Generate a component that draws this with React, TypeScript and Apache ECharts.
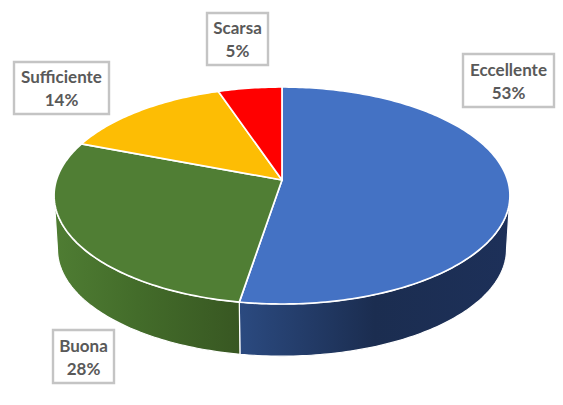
import React, { useEffect, useRef } from "react";
import * as echarts from "echarts";

const categories = ["Eccellente", "Buona", "Sufficiente", "Scarsa"];
const shares = [52.6, 28.2, 14.0, 5.2];
const topColors = ["#4472C4", "#507E34", "#FDBD04", "#FF0000"];
const wallStops: Record<number, [number, string][]> = {
  0: [[0, "#2B4A80"], [0.5, "#1B2D50"], [1, "#1D3059"]],
  1: [[0, "#4F7D33"], [0.45, "#436C2A"], [1, "#385722"]],
};
const labelBoxes = [
  [463, 54, 91, 53],
  [53, 330, 61, 53],
  [14, 62, 95, 52],
  [207, 13, 61, 52],
];

const CX = 282, TOP_Y = 180, RX = 225.6, RY = 106.3, K = 1 / 7;
const WALL_Y = 234, WALL_SCALE = 0.985;
const WALL_A = 98.2, WALL_B = 261.8;

function project(deg: number, cy: number, scale: number): number[] {
  const t = (deg * Math.PI) / 180;
  const den = 1 + K * Math.cos(t);
  return [CX + (scale * RX * Math.sin(t)) / den, cy - (scale * RY * Math.cos(t)) / den];
}

function arcPoints(a: number, b: number, cy: number, scale: number): number[][] {
  const n = Math.max(2, Math.ceil(Math.abs(b - a)));
  const pts: number[][] = [];
  for (let i = 0; i <= n; i++) pts.push(project(a + ((b - a) * i) / n, cy, scale));
  return pts;
}

function renderSlice(params: any, api: any) {
  const i = params.dataIndex;
  const value = api.value(0);
  const before = shares.slice(0, i).reduce((s, v) => s + v, 0);
  const a = (before / 100) * 360;
  const b = ((before + value) / 100) * 360;
  const children: any[] = [];
  const wa = Math.max(a, WALL_A), wb = Math.min(b, WALL_B);
  if (wb > wa && wallStops[i]) {
    const pts = [...arcPoints(wa, wb, TOP_Y, 1), ...arcPoints(wb, wa, WALL_Y, WALL_SCALE)];
    const xs = pts.map((p) => p[0]);
    children.push({
      type: "polygon",
      shape: { points: pts },
      style: {
        fill: {
          type: "linear",
          x: Math.min(...xs), y: 0, x2: Math.max(...xs), y2: 0,
          global: true,
          colorStops: wallStops[i].map(([offset, color]) => ({ offset, color })),
        },
        stroke: "#ffffff",
        lineWidth: 1.2,
      },
    });
  }
  children.push({
    type: "polygon",
    shape: { points: [[CX, TOP_Y], ...arcPoints(a, b, TOP_Y, 1)] },
    style: { fill: topColors[i], stroke: "#ffffff", lineWidth: 1.7, lineJoin: "round" },
  });
  return { type: "group", children };
}

function renderLabel(params: any, api: any) {
  const i = params.dataIndex;
  const [x, y, w, h] = labelBoxes[i];
  return {
    type: "group",
    children: [
      {
        type: "rect",
        shape: { x, y, width: w, height: h },
        style: { fill: "#ffffff", stroke: "#C4C4C4", lineWidth: 2.4 },
      },
      {
        type: "text",
        x: x + w / 2,
        y: y + h / 2,
        style: {
          text: `${categories[i]}\n${Math.round(api.value(0))}%`,
          fill: "#595959",
          font: 'bold 17px Lato',
          lineHeight: 23,
          align: "center",
          verticalAlign: "middle",
        },
      },
    ],
  };
}

export default function App() {
  const ref = useRef<HTMLDivElement>(null);
  useEffect(() => {
    const chart = echarts.init(ref.current!, null, { renderer: "svg" });
    chart.setOption({
      animation: false,
      backgroundColor: "#ffffff",
      series: [
        {
          type: "custom",
          coordinateSystem: "none",
          renderItem: renderSlice,
          data: shares.map((v, i) => ({ name: categories[i], value: [v] })),
          silent: true,
          z: 1,
        },
        {
          type: "custom",
          coordinateSystem: "none",
          renderItem: renderLabel,
          data: shares.map((v, i) => ({ name: categories[i], value: [v] })),
          silent: true,
          z: 2,
        },
      ],
    });
    return () => chart.dispose();
  }, []);
  return <div ref={ref} style={{ position: "absolute", left: 0, top: 0, width: 563, height: 405 }} />;
}
